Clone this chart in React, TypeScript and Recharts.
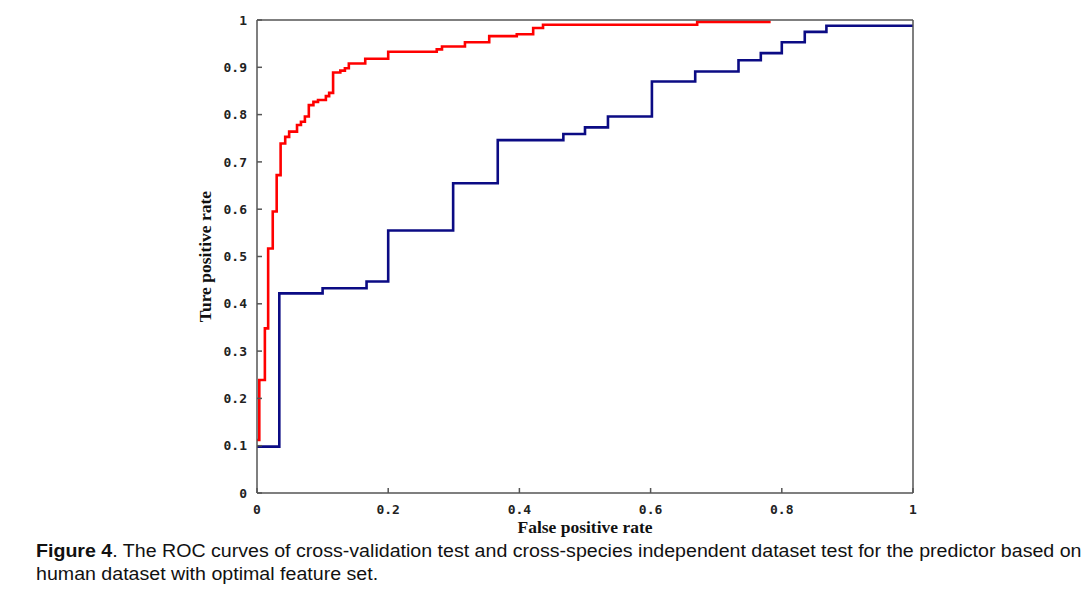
import React from 'react';
import { LineChart, Line, XAxis, YAxis, Label } from 'recharts';

// cross-validation (red) and cross-species test (blue) ROC points
const redFpr = [0, 0.0035, 0.012, 0.017, 0.024, 0.03, 0.036, 0.043, 0.049, 0.061, 0.067, 0.073, 0.079, 0.086, 0.093, 0.105, 0.11, 0.116, 0.127, 0.134, 0.14, 0.165, 0.2, 0.274, 0.282, 0.317, 0.354, 0.396, 0.421, 0.436, 0.671, 0.783];
const redTpr = [0.112, 0.239, 0.348, 0.517, 0.595, 0.672, 0.739, 0.753, 0.764, 0.778, 0.785, 0.796, 0.82, 0.827, 0.831, 0.839, 0.846, 0.889, 0.893, 0.898, 0.908, 0.918, 0.933, 0.938, 0.944, 0.953, 0.966, 0.97, 0.983, 0.99, 0.996, 0.996];

const blueFpr = [0, 0.034, 0.1, 0.167, 0.2, 0.299, 0.367, 0.467, 0.5, 0.535, 0.602, 0.668, 0.734, 0.768, 0.8, 0.835, 0.868, 1.0];
const blueTpr = [0.098, 0.422, 0.433, 0.447, 0.555, 0.655, 0.746, 0.759, 0.773, 0.796, 0.87, 0.891, 0.915, 0.93, 0.953, 0.975, 0.988, 0.988];

const xTicks = [0, 0.2, 0.4, 0.6, 0.8, 1];
const yTicks = [0, 0.1, 0.2, 0.3, 0.4, 0.5, 0.6, 0.7, 0.8, 0.9, 1];

const redData = redFpr.map((fpr, i) => ({ fpr, tpr: redTpr[i] }));
const blueData = blueFpr.map((fpr, i) => ({ fpr, tpr: blueTpr[i] }));

const fmt = (v: number) => (v === 0 ? '0' : v === 1 ? '1' : v.toFixed(1));

const tickFont = { fontFamily: 'DejaVu Sans Mono', fontWeight: 700, fontSize: 13, fill: '#222' };
const axisStroke = { stroke: '#555', strokeWidth: 1.5 };
const titleStyle = { fontFamily: 'Liberation Serif', fontWeight: 700, fontSize: 17.5, fill: '#111' };

export default function App() {
  return (
    <div style={{ position: 'fixed', left: 0, top: 0, width: 1091, height: 589, background: '#fff', overflow: 'hidden' }}>
      <LineChart width={1091} height={540} margin={{ top: 19, right: 177, bottom: 7, left: 197 }}>
        <XAxis
          dataKey="fpr"
          type="number"
          domain={[0, 1]}
          ticks={xTicks}
          tickFormatter={fmt}
          height={40}
          tickSize={-5}
          tickMargin={17}
          axisLine={axisStroke}
          tickLine={axisStroke}
          tick={tickFont}
          allowDuplicatedCategory={false}
        >
          <Label value="False positive rate" position="center" dy={14} style={titleStyle} />
        </XAxis>
        <XAxis
          xAxisId="top"
          orientation="top"
          type="number"
          domain={[0, 1]}
          ticks={xTicks}
          height={1}
          tickSize={-5}
          tick={false}
          axisLine={axisStroke}
          tickLine={axisStroke}
        />
        <YAxis
          type="number"
          domain={[0, 1]}
          ticks={yTicks}
          tickFormatter={fmt}
          width={60}
          tickSize={-5}
          tickMargin={15}
          axisLine={axisStroke}
          tickLine={axisStroke}
          tick={tickFont}
        >
          <Label value="Ture positive rate" position="center" angle={-90} dx={-22} style={titleStyle} />
        </YAxis>
        <YAxis
          yAxisId="r"
          orientation="right"
          type="number"
          domain={[0, 1]}
          ticks={yTicks}
          width={1}
          tickSize={-5}
          tick={false}
          axisLine={axisStroke}
          tickLine={axisStroke}
        />
        <Line
          data={blueData}
          dataKey="tpr"
          type="stepAfter"
          stroke="#0b0b84"
          strokeWidth={2.6}
          dot={false}
          isAnimationActive={false}
        />
        <Line
          data={redData}
          dataKey="tpr"
          type="stepAfter"
          stroke="#ff0000"
          strokeWidth={2.6}
          dot={false}
          isAnimationActive={false}
        />
      </LineChart>
      <div
        style={{
          position: 'absolute',
          left: 36,
          top: 540,
          fontFamily: 'Liberation Sans',
          fontSize: 17.5,
          lineHeight: '23px',
          color: '#111',
          whiteSpace: 'nowrap',
          transform: 'scaleX(1.12)',
          transformOrigin: 'left top',
        }}
      >
        <b>Figure 4</b>. The ROC curves of cross-validation test and cross-species independent dataset test for the predictor based on
        <br />
        human dataset with optimal feature set.
      </div>
    </div>
  );
}
